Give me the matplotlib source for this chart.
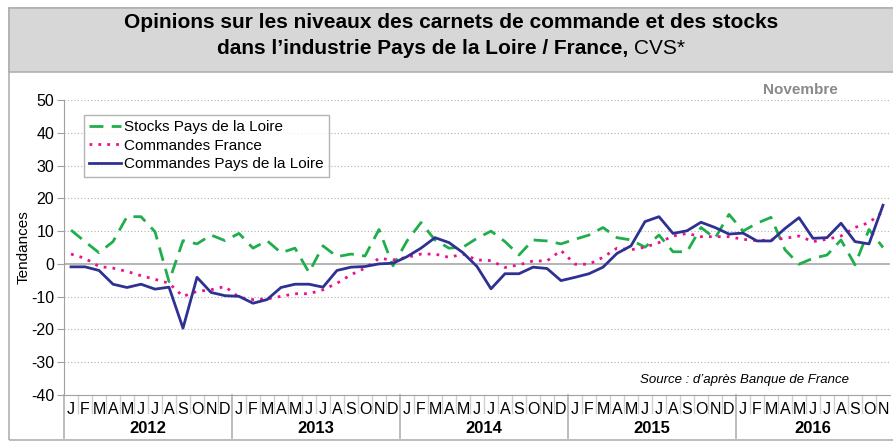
import numpy as np
import matplotlib.pyplot as plt
from matplotlib.patches import Rectangle
import matplotlib.transforms as mtransforms

# data (Jan 2012 -> Nov 2016)
years = ['2012', '2013', '2014', '2015', '2016']
month_letters = ['J', 'F', 'M', 'A', 'M', 'J', 'J', 'A', 'S', 'O', 'N', 'D']

stocks_pdl = [10.3, 6.8, 3.4, 6.8, 14.4, 14.4, 9.8, -5.4, 7.1, 6.1, 8.8, 7.1,
              9.3, 4.8, 7.1, 3.4, 4.8, -2.6, 5.5, 2.2, 3.0, 2.4, 10.5, -0.6,
              7.0, 12.6, 7.3, 4.8, 5.1, 7.8, 10.0, 6.8, 2.7, 7.3, 7.0, 6.1,
              7.5, 8.8, 11.1, 8.0, 7.3, 5.1, 8.8, 3.7, 3.7, 11.1, 7.8, 15.1,
              10.0, 12.4, 14.2, 4.3, -0.1, 1.7, 2.7, 7.3, -0.3, 10.5, 5.0]

cmd_france = [3.0, 1.7, -0.8, -1.3, -2.3, -3.6, -4.7, -5.9, -9.9, -8.4, -7.9, -6.9,
              -10.2, -10.9, -10.7, -9.9, -9.1, -9.1, -7.9, -5.9, -3.3, -1.3, 1.7, 1.2,
              2.0, 3.0, 3.0, 2.0, 3.0, 1.2, 1.0, -1.1, -0.3, 0.9, 0.9, 4.1,
              -0.1, -0.1, 2.0, 4.8, 4.3, 5.1, 6.5, 8.5, 9.3, 8.3, 8.3, 8.3,
              7.5, 7.1, 7.3, 7.8, 8.5, 6.8, 7.5, 8.5, 11.1, 12.6, 15.9]

cmd_pdl = [-0.9, -0.9, -2.0, -6.2, -7.2, -6.2, -7.7, -7.1, -19.6, -4.1, -8.7, -9.7,
           -9.9, -12.0, -10.9, -7.2, -6.2, -6.2, -7.1, -2.0, -1.0, -0.8, 0.0, 0.2,
           2.2, 4.8, 8.0, 6.5, 3.4, -0.8, -7.6, -3.0, -3.0, -1.0, -1.4, -5.1,
           -4.1, -3.0, -1.0, 3.2, 5.5, 12.9, 14.4, 9.3, 10.1, 12.7, 11.1, 9.1,
           9.4, 7.0, 7.0, 10.8, 14.1, 7.8, 8.0, 12.4, 6.8, 6.1, 17.9]

x = np.arange(len(cmd_pdl))
n = len(x)

plt.rcParams['font.family'] = ['Liberation Sans', 'DejaVu Sans']
plt.rcParams['axes.unicode_minus'] = False

fig = plt.figure(figsize=(8.93, 4.46), dpi=100)

# outer frame and grey title band
fig.patches.append(Rectangle((9/893, 6/446), 1, 432/446, transform=fig.transFigure,
                             fill=False, edgecolor='#b0b0b0', lw=1.2, zorder=0))
fig.patches.append(Rectangle((9/893, 1-72/446), 1, 64/446, transform=fig.transFigure,
                             facecolor='#d7d7d7', edgecolor='#b0b0b0', lw=1.2, zorder=0))

fig.text(0.505, 1-23/446, "Opinions sur les niveaux des carnets de commande et des stocks",
         ha='center', va='center', fontsize=15, fontweight='bold')
# second title line: bold part + regular "CVS*", centred together
r = fig.canvas.get_renderer()
ta = fig.text(0, 1-49/446, "dans l\u2019industrie Pays de la Loire / France, ",
              ha='left', va='center', fontsize=15, fontweight='bold')
tb = fig.text(0, 1-49/446, "CVS*", ha='left', va='center', fontsize=15)
wa = ta.get_window_extent(r).width / fig.bbox.width
wb = tb.get_window_extent(r).width / fig.bbox.width
x0 = 0.505 - (wa + wb) / 2
ta.set_x(x0)
tb.set_x(x0 + wa)

ax = fig.add_axes([64/893, 1-395/446, 826/893, 295/446])

ax.plot(x, stocks_pdl, color='#1fae4b', lw=2, dashes=(5, 3), label='Stocks Pays de la Loire')
ax.plot(x, cmd_france, color='#ec108c', lw=2, dashes=(1, 2.2), label='Commandes France')
ax.plot(x, cmd_pdl, color='#2e3192', lw=2, label='Commandes Pays de la Loire')

ax.set_xlim(-0.5, n - 0.5)
ax.set_ylim(-40, 50)
ax.set_yticks(range(-40, 51, 10))
ax.tick_params(axis='y', labelsize=11.5, length=5, color='#a0a0a0', pad=2)
ax.set_xticks([])
for yv in range(-30, 51, 10):
    if yv == 0:
        ax.axhline(0, color='#a8a8a8', lw=1.2, zorder=0)
    else:
        ax.axhline(yv, color='#b0b0b0', lw=0.8, ls=(0, (1, 2)), zorder=0)
for s in ['top', 'right']:
    ax.spines[s].set_visible(False)
ax.spines['left'].set_color('#a0a0a0')
ax.spines['bottom'].set_color('#a0a0a0')
ax.set_ylabel('Tendances', fontsize=11)
ax.yaxis.set_label_coords(-0.040, 0.5)

# month letters and year labels below the axis
trans = mtransforms.blended_transform_factory(ax.transData, ax.transAxes)
for i in range(n):
    ax.text(i, -0.025, month_letters[i % 12], transform=trans, ha='center', va='top',
            fontsize=11.5, clip_on=False)
    if i % 12 == 0:
        ax.plot([i - 0.5, i - 0.5], [0, -0.145], transform=trans, color='#b0b0b0',
                lw=1.2, clip_on=False)
    else:
        ax.plot([i - 0.5, i - 0.5], [0, -0.06], transform=trans, color='#d0d0d0',
                lw=1, clip_on=False)
for k, yr in enumerate(years):
    start = 12 * k
    end = min(12 * k + 12, n)
    ax.text((start + end - 1) / 2, -0.088, yr, transform=trans, ha='center', va='top',
            fontsize=12, fontweight='bold', clip_on=False)

ax.legend(loc='upper left', bbox_to_anchor=(0.024, 0.95), fontsize=11, frameon=True,
          fancybox=False, edgecolor='#a0a0a0', handlelength=2.1, handletextpad=0.2,
          borderpad=0.35, labelspacing=0.3, borderaxespad=0)

fig.text(800/893, 1-90/446, 'Novembre', ha='center', va='center', fontsize=11,
         fontweight='bold', color='#8a8a8a')
ax.text(0.95, 0.03, "Source : d\u2019apr\u00e8s Banque de France", transform=ax.transAxes,
        ha='right', va='bottom', fontsize=9.5, style='italic')

plt.savefig('out.png', dpi=100)
